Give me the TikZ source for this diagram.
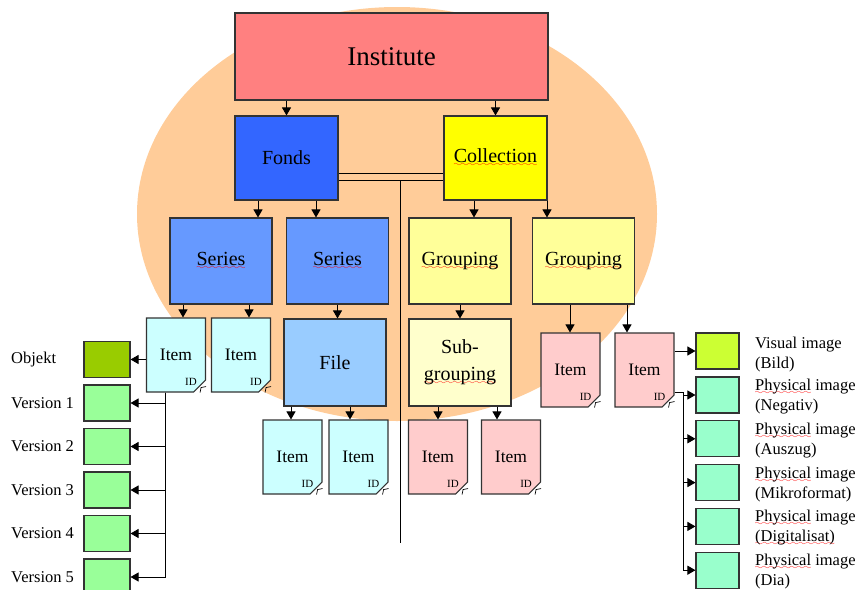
\documentclass[tikz,border=0pt]{standalone}
\usepackage{fontspec}
\setmainfont{Liberation Serif}
\usetikzlibrary{shapes.misc,arrows.meta,calc}

\definecolor{halo}{HTML}{FFCC99}
\definecolor{instred}{HTML}{FF8080}
\definecolor{fondsblue}{HTML}{3366FF}
\definecolor{collyellow}{HTML}{FFFF00}
\definecolor{seriesblue}{HTML}{6699FF}
\definecolor{groupyellow}{HTML}{FFFF99}
\definecolor{fileblue}{HTML}{99CCFF}
\definecolor{subyellow}{HTML}{FFFFCC}
\definecolor{itemcyan}{HTML}{CCFFFF}
\definecolor{itempink}{HTML}{FFCCCC}
\definecolor{objgreen}{HTML}{99CC00}
\definecolor{versgreen}{HTML}{99FF99}
\definecolor{visgreen}{HTML}{CCFF33}
\definecolor{physgreen}{HTML}{99FFCC}

% red spell-check wave under a word
\font\wavefont=lasy6 at 8pt
\newcommand\spellwave[1]{\setbox0=\hbox{#1}\leavevmode\rlap{\lower4pt\hbox to\wd0{\color{red}\xleaders\hbox{\wavefont\char58}\hfil}}\box0\relax}

\tikzset{
  unit/.style={
    draw=black!80,
    line width=1.1pt,
    inner sep=0pt,
    align=center,
    minimum width=102pt,
    minimum height=86pt,
    font=\fontsize{20}{27}\selectfont
  },
  item/.style={
    unit,
    fill=#1,
    chamfered rectangle,
    chamfered rectangle corners=south east,
    chamfered rectangle xsep=6pt,
    chamfered rectangle ysep=6pt,
    minimum width=59pt,
    minimum height=74pt,
    font=\fontsize{17.5}{20}\selectfont
  },
  swatch/.style={
    draw=black!80,
    line width=1.1pt,
    minimum width=46pt,
    minimum height=36pt,
    inner sep=0pt
  },
  sidelabel/.style={
    anchor=west,
    inner sep=0pt,
    align=left,
    font=\fontsize{16.5}{20}\selectfont
  },
  idtag/.style={
    anchor=south east,
    inner sep=0pt,
    font=\fontsize{11}{11}\selectfont
  },
  arr/.style={-{Triangle[length=8pt,width=9pt]}, line width=0.9pt},
  link/.style={line width=0.9pt}
}

\begin{document}
\begin{tikzpicture}[x=1pt,y=-1pt]
  \useasboundingbox (0,0) rectangle (859,589);
  \fill[halo] (397,214) ellipse [x radius=260, y radius=207];

  \node[unit, fill=instred, minimum width=313pt, minimum height=87pt,
        font=\fontsize{27}{30}\selectfont] (inst) at (391.5,56.5) {Institute};
  \node[unit, fill=fondsblue, minimum width=103pt, minimum height=84pt] (fonds) at (286.5,158) {Fonds};
  \node[unit, fill=collyellow, minimum width=103pt, minimum height=84pt] (coll) at (495.5,158) {\spellwave{Collection}};
  \node[unit, fill=seriesblue] (ser1) at (221,261) {\spellwave{Series}};
  \node[unit, fill=seriesblue] (ser2) at (337.5,261) {\spellwave{Series}};
  \node[unit, fill=groupyellow] (grp1) at (460,261) {\spellwave{Grouping}};
  \node[unit, fill=groupyellow] (grp2) at (583.5,261) {\spellwave{Grouping}};
  \node[unit, fill=fileblue, minimum height=87pt] (file) at (335,362.5) {File};
  \node[unit, fill=subyellow, minimum height=87pt] (sub) at (460,362.5) {Sub-\\\spellwave{grouping}};

  \node[item=itemcyan] (it1) at (176,355) {Item};
  \node[item=itemcyan] (it2) at (241,355) {Item};
  \node[item=itemcyan] (it3) at (292.5,457) {Item};
  \node[item=itemcyan] (it4) at (358.5,457) {Item};
  \node[item=itempink] (it5) at (438,457) {Item};
  \node[item=itempink] (it6) at (511,457) {Item};
  \node[item=itempink] (it7) at (570.5,370) {Item};
  \node[item=itempink] (it8) at (644.5,370) {Item};
  \foreach \n in {it1,it2,it3,it4,it5,it6,it7,it8}{
    \node[idtag] (\n id) at ($(\n.south -| \n.east)+(-9pt,7pt)$) {ID};
    \draw[line width=0.7pt] ($(\n.south -| \n.east)+(-6pt,0pt)$) -- ++(1pt,5pt) -- ++(5pt,1pt);
  }

  % tree arrows: parent/child/offset
  \foreach \a/\b/\s in {inst/fonds/-105, inst/coll/104, fonds/ser1/-28.5, fonds/ser2/29.5,
      coll/grp1/-21.5, coll/grp2/51.5, ser1/it1/-38, ser1/it2/28, ser2/file/0,
      grp1/sub/0, grp2/it7/-13.5, grp2/it8/43.5, file/it3/-44, file/it4/15,
      sub/it5/-22, sub/it6/37}
    \draw[arr] ([xshift=\s pt]\a.south) -- ([xshift=\s pt]\a.south |- \b.north);

  \draw[link] ([yshift=-15pt]fonds.east) -- ([yshift=-15pt]fonds.east -| coll.west);
  \draw[link] ([yshift=-22pt]fonds.east) -- ([yshift=-22pt]fonds.east -| coll.west);
  \coordinate (trunk) at (400,180);
  \coordinate (trunkend) at (400,543);
  \draw[link] (trunk) -- (trunkend);

  % object and its versions
  \node[swatch, fill=objgreen] (obj) at (107,359.5) {};
  \node[sidelabel] (objl) at (11,359.5) {Objekt};
  \draw[arr] (obj.east -| it1.west) -- (obj.east);
  \foreach \i in {1,...,5}{
    \node[swatch, fill=versgreen] (v\i) at (107,{403+43.5*(\i-1)}) {};
    \node[sidelabel] (vl\i) at (11,{403+43.5*(\i-1)}) {Version \i};
    \draw[arr] ([xshift=-11pt]it1.south) |- (v\i.east);
  }

  % images
  \node[swatch, fill=visgreen, minimum width=43pt] (vis) at (717.5,351) {};
  \node[sidelabel] (visl) at (755,355) {Visual image\\(Bild)};
  \draw[arr] (it8.east |- vis) -- (vis.west);
  \coordinate (rbus) at (683,392);
  \draw[link] (it8.east |- rbus) -- (rbus);
  \foreach \i/\t in {1/(Negativ),2/(Auszug),3/(Mikroformat),4/\spellwave{(Digitalisat)},5/(Dia)}{
    \node[swatch, fill=physgreen, minimum width=43pt] (ph\i) at (717.5,{395+43.8*(\i-1)}) {};
    \node[sidelabel] (phl\i) at (755,{397+43.6*(\i-1)}) {\spellwave{Physical} image\\\t};
    \draw[arr] (rbus) |- (ph\i.west);
  }
\end{tikzpicture}
\end{document}
